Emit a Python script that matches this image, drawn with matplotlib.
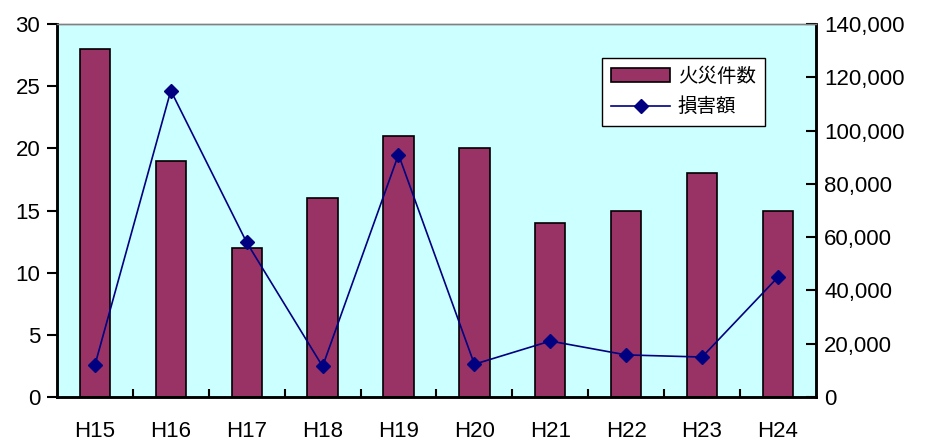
import matplotlib
matplotlib.use("Agg")
import matplotlib.pyplot as plt
from matplotlib.ticker import FuncFormatter, MultipleLocator

plt.rcParams['font.family'] = ['Liberation Sans', 'Noto Sans CJK JP', 'DejaVu Sans']

years = ['H15', 'H16', 'H17', 'H18', 'H19', 'H20', 'H21', 'H22', 'H23', 'H24']
fires = [28, 19, 12, 16, 21, 20, 14, 15, 18, 15]
damage = [12000, 115000, 58000, 11500, 91000, 12300, 21000, 15800, 15000, 45000]


def main():
    fig = plt.figure(figsize=(9.28, 4.42), dpi=100)
    ax = fig.add_axes([0.0614, 0.1018, 0.8178, 0.8439])
    ax.set_facecolor('#CCFFFF')
    x = list(range(len(years)))

    bars = ax.bar(x, fires, width=0.4, color='#993366', edgecolor='black',
                  linewidth=1.2, zorder=2, label='火災件数')
    ax.set_xlim(-0.5, len(years) - 0.5)
    ax.set_ylim(0, 30)
    ax.yaxis.set_major_locator(MultipleLocator(5))
    ax.set_xticks(x)
    ax.set_xticklabels(years)
    ax.set_xticks([i + 0.5 for i in x[:-1]], minor=True)
    ax.tick_params(axis='x', which='major', length=0, pad=17, labelsize=16)
    ax.tick_params(axis='x', which='minor', direction='in', length=6, width=1.5)
    ax.tick_params(axis='y', direction='out', length=7, width=1.5, labelsize=16, pad=5)

    ax2 = ax.twinx()
    line, = ax2.plot(x, damage, color='#000080', marker='D', markersize=7,
                     linewidth=1.2, label='損害額', zorder=3)
    ax2.set_ylim(0, 140000)
    ax2.yaxis.set_major_locator(MultipleLocator(20000))
    ax2.yaxis.set_major_formatter(FuncFormatter(lambda v, p: '{:,.0f}'.format(v)))
    ax2.tick_params(axis='y', direction='in', length=7, width=1.5, labelsize=16, pad=6)

    for a in (ax, ax2):
        a.spines['left'].set_linewidth(1.8)
        a.spines['right'].set_linewidth(1.8)
        a.spines['bottom'].set_linewidth(1.8)
        a.spines['top'].set_color('#808080')
        a.spines['top'].set_linewidth(1.0)

    leg = ax2.legend([bars, line], ['火災件数', '損害額'], loc='upper left',
                     bbox_to_anchor=(0.705, 0.935), fontsize=14, frameon=True,
                     fancybox=False, edgecolor='black', framealpha=1,
                     handlelength=3.0, handletextpad=0.4, borderpad=0.5,
                     labelspacing=0.6)
    leg.get_frame().set_linewidth(1.0)

    fig.savefig('out.png', dpi=100)


if __name__ == '__main__':
    main()
